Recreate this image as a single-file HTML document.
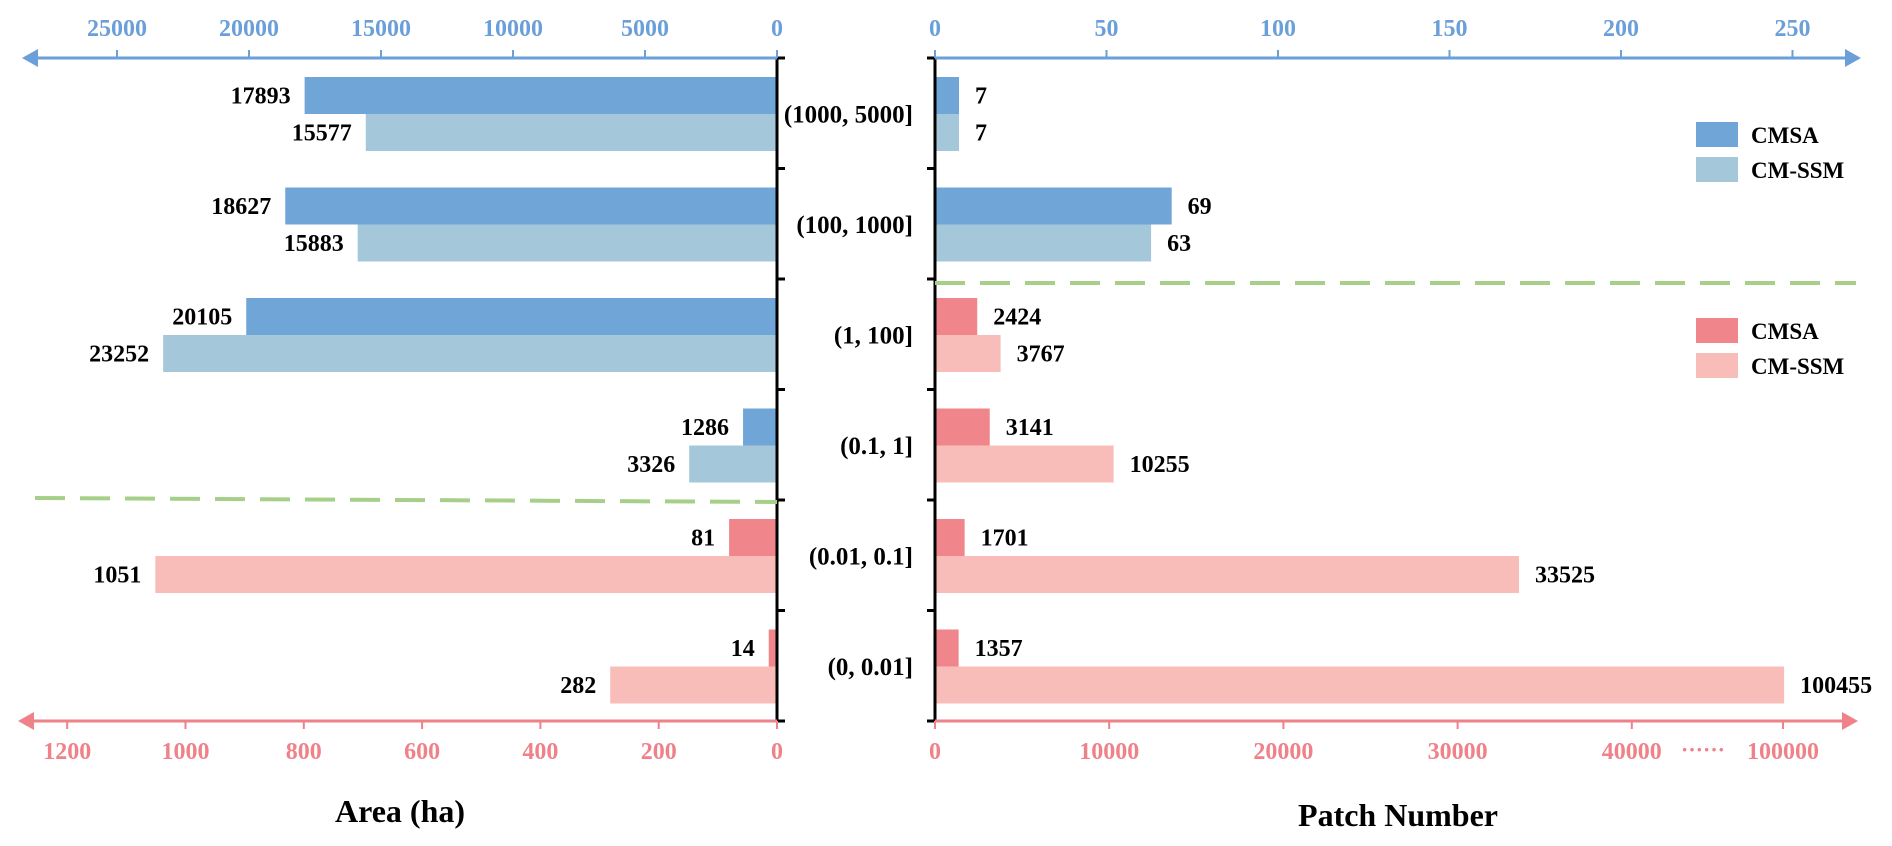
<!DOCTYPE html>
<html><head><meta charset="utf-8"><style>
html,body{margin:0;padding:0;background:#fff;}
svg{display:block;}
text{font-family:"Liberation Serif",serif;}
</style></head><body>
<svg id="chart" width="1892" height="846" viewBox="0 0 1892 846" xmlns="http://www.w3.org/2000/svg"></svg>
<script>
const categories = ["(1000, 5000]","(100, 1000]","(1, 100]","(0.1, 1]","(0.01, 0.1]","(0, 0.01]"];
const areaCMSA = [17893, 18627, 20105, 1286, 81, 14];
const areaCMSSM = [15577, 15883, 23252, 3326, 1051, 282];
const patchCMSA = [7, 69, 2424, 3141, 1701, 1357];
const patchCMSSM = [7, 63, 3767, 10255, 33525, 100455];
const areaBlueTicks = [0, 5000, 10000, 15000, 20000, 25000];
const areaRedTicks = [0, 200, 400, 600, 800, 1000, 1200];
const patchBlueTicks = [0, 50, 100, 150, 200, 250];
const patchRedTicks = [0, 10000, 20000, 30000, 40000, 100000];
const blueGroup = [true, true, true, true, false, false];
const blueGroupRight = [true, true, false, false, false, false];

const svg = document.getElementById('chart');
const NS = 'http://www.w3.org/2000/svg';
function mk(tag, attrs, parent){const e=document.createElementNS(NS,tag);for(const k in attrs)e.setAttribute(k,attrs[k]);(parent||svg).appendChild(e);return e;}
function txt(s, attrs){const e=mk('text',attrs);e.textContent=s;return e;}

const C = {dBlue:'#6fa5d7', lBlue:'#a5c7da', dRed:'#f0868b', lRed:'#f8bdb9', axBlue:'#6a9fd9', axRed:'#ef8189', green:'#a6d08a'};
const L0 = 777, R0 = 935, TOP = 58, BOT = 721, BAND = 110.5;
const xAreaBlue = v => L0 - v * 132 / 5000;
const xAreaRed = v => L0 - v * 118.3 / 200;
const xPatchBlue = v => R0 + v * 3.43;
const xPatchRed = v => v <= 40000 ? R0 + v * 0.01742 : 1632 + (v - 40000) * (151 / 60000);
const bandY = i => TOP + BAND * i;

// bars
categories.forEach((c, i) => {
  const y1 = bandY(i) + 19, y2 = bandY(i) + 56, h = 37;
  const lb = blueGroup[i];
  const xs = lb ? xAreaBlue : xAreaRed;
  let x = xs(areaCMSA[i]);
  let r = mk('rect',{x:x,y:y1,width:L0-x,height:h,fill:lb?C.dBlue:C.dRed});
  
  
  let t = txt(String(areaCMSA[i]),{x:x-14,y:y1+h/2+8,'text-anchor':'end','font-size':24,'font-weight':'bold'});
  
  
  x = xs(areaCMSSM[i]);
  r = mk('rect',{x:x,y:y2,width:L0-x,height:h,fill:lb?C.lBlue:C.lRed});
  
  
  t = txt(String(areaCMSSM[i]),{x:x-14,y:y2+h/2+8,'text-anchor':'end','font-size':24,'font-weight':'bold'});
  
  

  const rb = blueGroupRight[i];
  const xp = rb ? xPatchBlue : xPatchRed;
  let xe = xp(patchCMSA[i]);
  r = mk('rect',{x:R0,y:y1,width:xe-R0,height:h,fill:rb?C.dBlue:C.dRed});
  
  
  t = txt(String(patchCMSA[i]),{x:xe+16,y:y1+h/2+8,'font-size':24,'font-weight':'bold'});
  
  
  xe = xp(patchCMSSM[i]);
  r = mk('rect',{x:R0,y:y2,width:xe-R0,height:h,fill:rb?C.lBlue:C.lRed});
  
  
  t = txt(String(patchCMSSM[i]),{x:xe+16,y:y2+h/2+8,'font-size':24,'font-weight':'bold'});
  
  

  t = txt(c,{x:913,y:bandY(i)+BAND/2+9,'text-anchor':'end','font-size':25,'font-weight':'bold'});
  
  
});

// category axes
mk('line',{x1:L0,y1:TOP,x2:L0,y2:BOT,stroke:'#000','stroke-width':3});
mk('line',{x1:R0,y1:TOP,x2:R0,y2:BOT,stroke:'#000','stroke-width':3});
for (let i = 0; i <= categories.length; i++) {
  const y = bandY(i);
  mk('line',{x1:L0,y1:y,x2:L0+8,y2:y,stroke:'#000','stroke-width':3});
  mk('line',{x1:R0-8,y1:y,x2:R0,y2:y,stroke:'#000','stroke-width':3});
}

// top-left blue axis
mk('line',{x1:L0,y1:TOP,x2:34,y2:TOP,stroke:C.axBlue,'stroke-width':3});
mk('polygon',{points:`22,${TOP} 38,${TOP-9} 38,${TOP+9}`,fill:C.axBlue});
areaBlueTicks.forEach(v=>{const x=xAreaBlue(v);mk('line',{x1:x,y1:TOP-8,x2:x,y2:TOP,stroke:C.axBlue,'stroke-width':2});
  const t=txt(String(v),{x:x,y:36,'text-anchor':'middle','font-size':24,'font-weight':'bold',fill:C.axBlue});
  
  });
// bottom-left red axis
mk('line',{x1:L0,y1:BOT,x2:30,y2:BOT,stroke:C.axRed,'stroke-width':3});
mk('polygon',{points:`18,${BOT} 34,${BOT-9} 34,${BOT+9}`,fill:C.axRed});
areaRedTicks.forEach(v=>{const x=xAreaRed(v);mk('line',{x1:x,y1:BOT,x2:x,y2:BOT+8,stroke:C.axRed,'stroke-width':2});
  const t=txt(String(v),{x:x,y:759,'text-anchor':'middle','font-size':24,'font-weight':'bold',fill:C.axRed});
  
  });
// top-right blue axis
mk('line',{x1:R0,y1:TOP,x2:1848,y2:TOP,stroke:C.axBlue,'stroke-width':3});
mk('polygon',{points:`1861,${TOP} 1845,${TOP-9} 1845,${TOP+9}`,fill:C.axBlue});
patchBlueTicks.forEach(v=>{const x=xPatchBlue(v);mk('line',{x1:x,y1:TOP-8,x2:x,y2:TOP,stroke:C.axBlue,'stroke-width':2});
  const t=txt(String(v),{x:x,y:36,'text-anchor':'middle','font-size':24,'font-weight':'bold',fill:C.axBlue});
  
  });
// bottom-right red axis
mk('line',{x1:R0,y1:BOT,x2:1845,y2:BOT,stroke:C.axRed,'stroke-width':3});
mk('polygon',{points:`1858,${BOT} 1842,${BOT-9} 1842,${BOT+9}`,fill:C.axRed});
patchRedTicks.forEach(v=>{const x=xPatchRed(v);mk('line',{x1:x,y1:BOT,x2:x,y2:BOT+8,stroke:C.axRed,'stroke-width':2});
  const t=txt(String(v),{x:x,y:759,'text-anchor':'middle','font-size':24,'font-weight':'bold',fill:C.axRed});
  
  });
txt('······',{x:1703,y:757,'text-anchor':'middle','font-size':22,'font-weight':'bold',fill:C.axRed,});

// dashed separators
mk('line',{x1:35,y1:498,x2:L0,y2:502,stroke:C.green,'stroke-width':4,'stroke-dasharray':'30 15',});
mk('line',{x1:R0,y1:283,x2:1856,y2:283,stroke:C.green,'stroke-width':4,'stroke-dasharray':'30 15',});

// legends
[[122,C.dBlue,'CMSA'],[157,C.lBlue,'CM-SSM'],[318,C.dRed,'CMSA'],[353,C.lRed,'CM-SSM']].forEach((d,i)=>{
  const r=mk('rect',{x:1696,y:d[0],width:42,height:25,fill:d[1]});
  
  
  const t=txt(d[2],{x:1751,y:d[0]+21,'font-size':23,'font-weight':'bold'});
  
  
});

// titles
txt('Area (ha)',{x:400,y:822,'text-anchor':'middle','font-size':32,'font-weight':'bold',});
txt('Patch Number',{x:1398,y:826,'text-anchor':'middle','font-size':32,'font-weight':'bold',});
</script>
</body></html>
